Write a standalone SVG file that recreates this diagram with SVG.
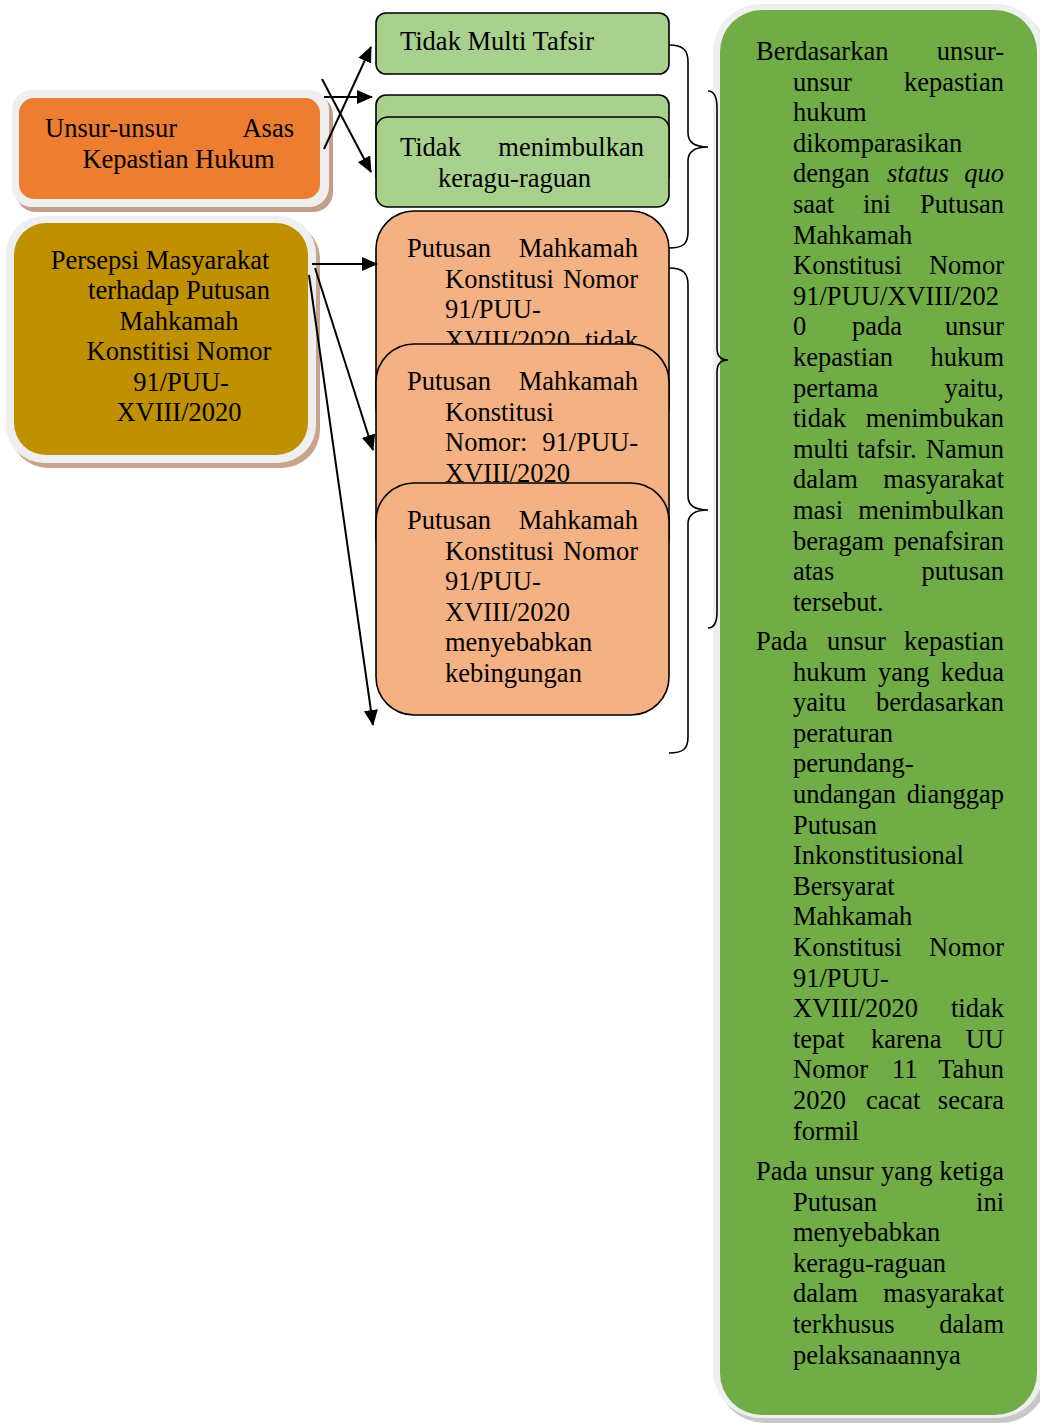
<svg xmlns="http://www.w3.org/2000/svg" width="1040" height="1423" viewBox="0 0 1040 1423">
<defs>
<style>
.t{font-family:"Liberation Serif","Times New Roman",serif;font-size:26.5px;fill:#000}
.e{text-anchor:end}
.m{text-anchor:middle}
.i{font-style:italic}
.lg{fill:#A9D18E;stroke:#000;stroke-width:1.6}
.sa{fill:#F4B183;stroke:#000;stroke-width:1.6}
.ring{fill:#EFEFEF}
.conn{stroke:#000;stroke-width:2;fill:none}
.brace{stroke:#000;stroke-width:1.6;fill:none}
</style>
<marker id="ah" markerUnits="userSpaceOnUse" markerWidth="16" markerHeight="14" refX="15" refY="7" orient="auto">
<path d="M0,0 L16,7 L0,14 Z" fill="#000"/>
</marker>
</defs>
<rect width="1040" height="1423" fill="#fff"/>

<g id="node-unsur">
<rect x="16" y="95" width="317" height="117" rx="20" fill="#C39E88"/>
<rect class="ring" x="12" y="90" width="317" height="117" rx="20"/>
<rect x="19" y="98" width="301" height="101" rx="15" fill="#ED7D31"/>
<text class="t" x="45" y="137">Unsur-unsur</text>
<text class="t e" x="294" y="137">Asas</text>
<text class="t m" x="178.5" y="168">Kepastian Hukum</text>
</g>

<g id="node-persepsi">
<rect x="10" y="221" width="310" height="247" rx="38" fill="#C7A48D"/>
<rect class="ring" x="6" y="216" width="310" height="247" rx="38"/>
<rect x="14" y="223" width="294" height="232" rx="32" fill="#BF9000"/>
<text class="t m" x="160" y="269">Persepsi Masyarakat</text>
<text class="t m" x="179" y="299">terhadap Putusan</text>
<text class="t m" x="179" y="329.6">Mahkamah</text>
<text class="t m" x="179" y="360.2">Konstitisi Nomor</text>
<text class="t m" x="181" y="390.8">91/PUU-</text>
<text class="t m" x="179" y="421.4">XVIII/2020</text>
</g>

<g id="node-multi-tafsir">
<rect class="lg" x="376" y="13" width="293" height="61" rx="10"/>
<text class="t" x="400" y="50">Tidak Multi Tafsir</text>
</g>

<g id="node-hidden-green">
<rect class="lg" x="376" y="95" width="293" height="90" rx="10"/>
</g>

<g id="node-keraguan">
<rect class="lg" x="376" y="117" width="293" height="90" rx="12"/>
<text class="t" x="400" y="156">Tidak</text>
<text class="t e" x="644" y="156">menimbulkan</text>
<text class="t" x="438" y="186.6">keragu-raguan</text>
</g>

<g id="node-putusan-a">
<rect class="sa" x="376" y="211" width="293" height="232" rx="38"/>
<text class="t" x="407" y="257">Putusan</text>
<text class="t e" x="638" y="257">Mahkamah</text>
<text class="t" x="445" y="287.6">Konstitusi</text>
<text class="t e" x="638" y="287.6">Nomor</text>
<text class="t" x="445" y="318.2">91/PUU-</text>
<text class="t" x="445" y="348.8">XVIII/2020</text>
<text class="t e" x="638" y="348.8">tidak</text>
</g>

<g id="node-putusan-b">
<rect class="sa" x="376" y="344" width="293" height="232" rx="38"/>
<text class="t" x="407" y="390">Putusan</text>
<text class="t e" x="638" y="390">Mahkamah</text>
<text class="t" x="445" y="420.6">Konstitusi</text>
<text class="t" x="445" y="451.2">Nomor:</text>
<text class="t e" x="638" y="451.2">91/PUU-</text>
<text class="t" x="445" y="481.8">XVIII/2020</text>
</g>

<g id="node-putusan-c">
<rect class="sa" x="376" y="483" width="293" height="232" rx="38"/>
<text class="t" x="407" y="529">Putusan</text>
<text class="t e" x="638" y="529">Mahkamah</text>
<text class="t" x="445" y="559.6">Konstitusi</text>
<text class="t e" x="638" y="559.6">Nomor</text>
<text class="t" x="445" y="590.2">91/PUU-</text>
<text class="t" x="445" y="620.8">XVIII/2020</text>
<text class="t" x="445" y="651.4">menyebabkan</text>
<text class="t" x="445" y="682">kebingungan</text>
</g>

<g id="node-analisis">
<rect x="717" y="9" width="331" height="1414" rx="48" fill="#9A9A9A" opacity="0.55"/>
<rect class="ring" x="713" y="4" width="331" height="1414" rx="48"/>
<rect x="720" y="10" width="317" height="1405" rx="42" fill="#70AD47"/>
<text class="t" x="756" y="60">Berdasarkan</text><text class="t e" x="1004" y="60">unsur-</text>
<text class="t" x="793" y="90.6">unsur</text><text class="t e" x="1004" y="90.6">kepastian</text>
<text class="t" x="793" y="121.2">hukum</text>
<text class="t" x="793" y="151.8">dikomparasikan</text>
<text class="t" x="793" y="182.4">dengan</text><text class="t i" x="887" y="182.4">status</text><text class="t i e" x="1004" y="182.4">quo</text>
<text class="t" x="793" y="213">saat</text><text class="t" x="863" y="213">ini</text><text class="t e" x="1004" y="213">Putusan</text>
<text class="t" x="793" y="243.6">Mahkamah</text>
<text class="t" x="793" y="274.2">Konstitusi</text><text class="t e" x="1004" y="274.2">Nomor</text>
<text class="t" x="793" y="304.8">91/PUU/XVIII/202</text>
<text class="t" x="793" y="335.4">0</text><text class="t" x="852" y="335.4">pada</text><text class="t e" x="1004" y="335.4">unsur</text>
<text class="t" x="793" y="366">kepastian</text><text class="t e" x="1004" y="366">hukum</text>
<text class="t" x="793" y="396.6">pertama</text><text class="t e" x="1004" y="396.6">yaitu,</text>
<text class="t" x="793" y="427.2">tidak</text><text class="t e" x="1004" y="427.2">menimbukan</text>
<text class="t" x="793" y="457.8">multi</text><text class="t" x="857" y="457.8">tafsir.</text><text class="t e" x="1004" y="457.8">Namun</text>
<text class="t" x="793" y="488.4">dalam</text><text class="t e" x="1004" y="488.4">masyarakat</text>
<text class="t" x="793" y="519">masi</text><text class="t e" x="1004" y="519">menimbulkan</text>
<text class="t" x="793" y="549.6">beragam</text><text class="t e" x="1004" y="549.6">penafsiran</text>
<text class="t" x="793" y="580.2">atas</text><text class="t e" x="1004" y="580.2">putusan</text>
<text class="t" x="793" y="610.8">tersebut.</text>

<text class="t" x="756" y="650">Pada</text><text class="t" x="827" y="650">unsur</text><text class="t e" x="1004" y="650">kepastian</text>
<text class="t" x="793" y="680.6">hukum</text><text class="t" x="878" y="680.6">yang</text><text class="t e" x="1004" y="680.6">kedua</text>
<text class="t" x="793" y="711.2">yaitu</text><text class="t e" x="1004" y="711.2">berdasarkan</text>
<text class="t" x="793" y="741.8">peraturan</text>
<text class="t" x="793" y="772.4">perundang-</text>
<text class="t" x="793" y="803">undangan</text><text class="t e" x="1004" y="803">dianggap</text>
<text class="t" x="793" y="833.6">Putusan</text>
<text class="t" x="793" y="864.2">Inkonstitusional</text>
<text class="t" x="793" y="894.8">Bersyarat</text>
<text class="t" x="793" y="925.4">Mahkamah</text>
<text class="t" x="793" y="956">Konstitusi</text><text class="t e" x="1004" y="956">Nomor</text>
<text class="t" x="793" y="986.6">91/PUU-</text>
<text class="t" x="793" y="1017.2">XVIII/2020</text><text class="t e" x="1004" y="1017.2">tidak</text>
<text class="t" x="793" y="1047.8">tepat</text><text class="t" x="871" y="1047.8">karena</text><text class="t e" x="1004" y="1047.8">UU</text>
<text class="t" x="793" y="1078.4">Nomor</text><text class="t" x="892" y="1078.4">11</text><text class="t e" x="1004" y="1078.4">Tahun</text>
<text class="t" x="793" y="1109">2020</text><text class="t" x="866" y="1109">cacat</text><text class="t e" x="1004" y="1109">secara</text>
<text class="t" x="793" y="1139.6">formil</text>

<text class="t" x="756" y="1180">Pada</text><text class="t" x="815" y="1180">unsur</text><text class="t" x="881" y="1180">yang</text><text class="t e" x="1004" y="1180">ketiga</text>
<text class="t" x="793" y="1210.6">Putusan</text><text class="t e" x="1004" y="1210.6">ini</text>
<text class="t" x="793" y="1241.2">menyebabkan</text>
<text class="t" x="793" y="1271.8">keragu-raguan</text>
<text class="t" x="793" y="1302.4">dalam</text><text class="t e" x="1004" y="1302.4">masyarakat</text>
<text class="t" x="793" y="1333">terkhusus</text><text class="t e" x="1004" y="1333">dalam</text>
<text class="t" x="793" y="1363.6">pelaksanaannya</text>
</g>

<g id="connectors">
<line class="conn" x1="324" y1="149" x2="371" y2="47" marker-end="url(#ah)"/>
<line class="conn" x1="324" y1="97" x2="372" y2="97" marker-end="url(#ah)"/>
<line class="conn" x1="322" y1="79" x2="371" y2="172" marker-end="url(#ah)"/>
<line class="conn" x1="312" y1="264" x2="377" y2="264" marker-end="url(#ah)"/>
<line class="conn" x1="315" y1="268" x2="373" y2="450" marker-end="url(#ah)"/>
<line class="conn" x1="309" y1="275" x2="373" y2="725" marker-end="url(#ah)"/>
<path class="brace" d="M669,45 C683,45 688,50 688,62 L688,133 C688,143 696,147 708,147 C696,147 688,151 688,161 L688,232 C688,244 683,248 669,248"/>
<path class="brace" d="M669,268 C683,268 688,273 688,285 L688,496 C688,506 696,510 708,510 C696,510 688,514 688,524 L688,737 C688,749 683,753 669,753"/>
<path class="brace" d="M708,91 C714,91 717,97 717,108 L717,348 C717,356 721,360 728,360 C721,360 717,364 717,372 L717,612 C717,623 714,628 708,628"/>
</g>
</svg>
